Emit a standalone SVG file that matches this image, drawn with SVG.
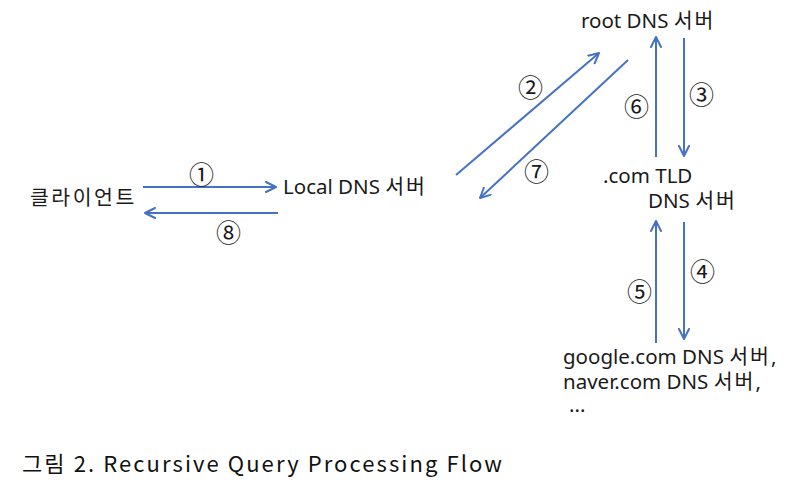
<svg xmlns="http://www.w3.org/2000/svg" width="801" height="486" viewBox="0 0 801 486">
  <defs>
    <marker id="open-head" viewBox="0 0 12 12" refX="11" refY="6" markerWidth="12" markerHeight="12" markerUnits="userSpaceOnUse" orient="auto">
      <path d="M1,1 L11,6 L1,11" fill="none" stroke="#4472C4" stroke-width="2" stroke-linecap="round" stroke-linejoin="round"/>
    </marker>
    <style>
      .node { font-family: "Noto Sans", "Noto Sans CJK KR", sans-serif; font-size: 20.5px; fill: #1a1a1a; }
      .ko { letter-spacing: 2px; }
      .num { font-family: "Noto Sans CJK KR", "DejaVu Sans", sans-serif; font-size: 25px; fill: #1a1a1a; }
      .cap { font-family: "Noto Sans CJK KR", "DejaVu Sans", sans-serif; font-size: 22px; fill: #111; }
      .flow { stroke: #4472C4; stroke-width: 2; fill: none; marker-end: url(#open-head); }
    </style>
  </defs>
  <rect width="801" height="486" fill="#ffffff"/>

  <g id="client"><text class="node" x="30" y="205" style="letter-spacing:2.5px">클라이언트</text></g>
  <g id="local-dns"><text class="node" x="283" y="194">Local DNS <tspan class="ko">서버</tspan></text></g>
  <g id="root-dns"><text class="node" x="581" y="28">root DNS <tspan class="ko">서버</tspan></text></g>
  <g id="tld-dns">
    <text class="node" x="603" y="183">.com TLD</text>
    <text class="node" x="648" y="208">DNS <tspan class="ko">서버</tspan></text>
  </g>
  <g id="auth-dns">
    <text class="node" x="563" y="364">google.com DNS <tspan class="ko">서버</tspan>,</text>
    <text class="node" x="563" y="389">naver.com DNS <tspan class="ko">서버</tspan>,</text>
    <text class="node" x="569" y="412">...</text>
  </g>

  <g id="connectors">
    <line class="flow" x1="143" y1="187" x2="276" y2="187"/>
    <line class="flow" x1="278" y1="213" x2="145" y2="213"/>
    <line class="flow" x1="456" y1="175" x2="599" y2="53"/>
    <line class="flow" x1="628" y1="60" x2="480" y2="198"/>
    <line class="flow" x1="684" y1="38" x2="684" y2="156"/>
    <line class="flow" x1="656" y1="157" x2="656" y2="37"/>
    <line class="flow" x1="684" y1="222" x2="684" y2="339"/>
    <line class="flow" x1="656" y1="343" x2="656" y2="221"/>
  </g>

  <g id="step-labels">
    <text class="num" x="189" y="184">①</text>
    <text class="num" x="518" y="97">②</text>
    <text class="num" x="689" y="104">③</text>
    <text class="num" x="690" y="281">④</text>
    <text class="num" x="627" y="301">⑤</text>
    <text class="num" x="624" y="116">⑥</text>
    <text class="num" x="524" y="181">⑦</text>
    <text class="num" x="216" y="242">⑧</text>
  </g>

  <text class="cap" x="22" y="472" textLength="480" lengthAdjust="spacing">그림 2. Recursive Query Processing Flow</text>
</svg>
